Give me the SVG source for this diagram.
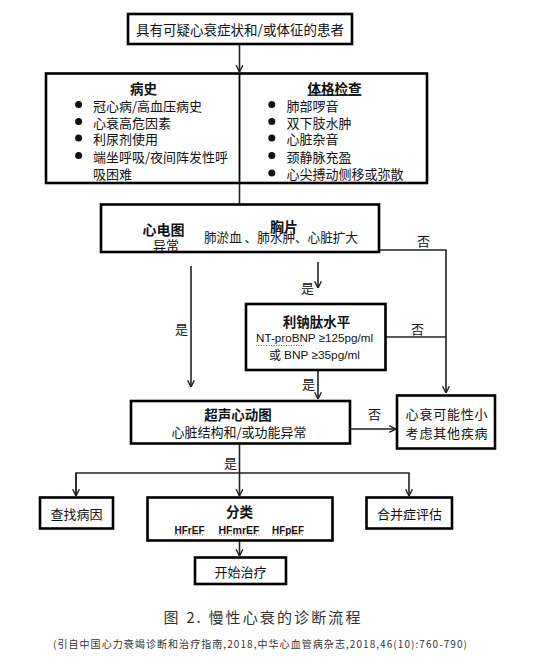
<svg xmlns="http://www.w3.org/2000/svg" width="536" height="670" viewBox="0 0 536 670">
<style>
.box{fill:#fff;stroke:#000;stroke-width:2.6}
.t{font-family:"Noto Sans CJK SC","Liberation Sans",sans-serif;font-size:13px;fill:#111;dominant-baseline:central}
.b{font-weight:bold;font-size:13.5px}
.c{text-anchor:middle}
.lat{font-family:"Liberation Sans","Noto Sans",sans-serif;font-size:11.5px;fill:#111;dominant-baseline:central}
.ln{fill:none;stroke:#222;stroke-width:1.6}
.sq{stroke:#d33;stroke-width:1;stroke-dasharray:1 1.5}
.cap{font-family:"Noto Sans CJK SC",serif;fill:#333;dominant-baseline:central}
</style>
<defs>
<marker id="ar" viewBox="0 0 10 10" refX="9.5" refY="5" markerWidth="8" markerHeight="9" markerUnits="userSpaceOnUse" orient="auto">
<path d="M1,0.8 L9.5,5 L1,9.2" fill="none" stroke="#222" stroke-width="1.8"/>
</marker>
</defs>
<rect width="536" height="670" fill="#fff"/>

<g id="connectors">
<line class="ln" x1="239.5" y1="44" x2="239.5" y2="72" marker-end="url(#ar)"/>
<line class="ln" x1="239.5" y1="183" x2="239.5" y2="223" marker-end="url(#ar)"/>
<polyline class="ln" points="379,250 446,250 446,393" marker-end="url(#ar)"/>
<line class="ln" x1="318" y1="262" x2="318" y2="288" marker-end="url(#ar)"/>
<line class="ln" x1="191" y1="266" x2="191" y2="387" marker-end="url(#ar)"/>
<line class="ln" x1="385" y1="337" x2="446" y2="337"/>
<line class="ln" x1="318" y1="370" x2="318" y2="399" marker-end="url(#ar)"/>
<line class="ln" x1="350" y1="429" x2="396" y2="429" marker-end="url(#ar)"/>
<line class="ln" x1="239.5" y1="444" x2="239.5" y2="496" marker-end="url(#ar)"/>
<polyline class="ln" points="76,496 76,473 409,473 409,496" marker-end="url(#ar)"/>
<line class="ln" x1="76" y1="473" x2="76" y2="496" marker-end="url(#ar)"/>
<line class="ln" x1="239.5" y1="541" x2="239.5" y2="556" marker-end="url(#ar)"/>
<text class="t" x="417" y="240">否</text>
<text class="t" x="301" y="287">是</text>
<text class="t" x="175" y="328">是</text>
<text class="t" x="411" y="328">否</text>
<text class="t" x="302" y="383">是</text>
<text class="t" x="368" y="413">否</text>
<text class="t" x="224" y="462">是</text>
</g>

<g id="node-start">
<rect class="box" x="128" y="14" width="224" height="30"/>
<text class="t c" x="240" y="29" style="font-size:13.5px">具有可疑心衰症状和/或体征的患者</text>
</g>

<g id="node-history-exam">
<rect class="box" x="46" y="73.5" width="381" height="109.5"/>
<line x1="239.5" y1="73.5" x2="239.5" y2="183" stroke="#000" stroke-width="1.8"/>
<text class="t b c" x="143.5" y="87.5">病史</text>
<g fill="#111">
<circle cx="78.6" cy="104.5" r="3.5"/><circle cx="78.6" cy="121.5" r="3.5"/><circle cx="78.6" cy="138" r="3.5"/><circle cx="78.6" cy="155.5" r="3.5"/>
<circle cx="271.8" cy="104.5" r="3.5"/><circle cx="271.8" cy="121.5" r="3.5"/><circle cx="271.8" cy="138" r="3.5"/><circle cx="271.8" cy="155.5" r="3.5"/><circle cx="271.8" cy="173" r="3.5"/>
</g>
<text class="t" x="93" y="105">冠心病/高血压病史</text>
<text class="t" x="93" y="122">心衰高危因素</text>
<text class="t" x="93" y="138.5">利尿剂使用</text>
<text class="t" x="93" y="156">端坐呼吸/夜间阵发性呼</text>
<text class="t" x="93" y="173.5">吸困难</text>
<text class="t b c" x="334.5" y="87.5" text-decoration="underline">体格检查</text>
<text class="t" x="286.5" y="105">肺部啰音</text>
<text class="t" x="286.5" y="122">双下肢水肿</text>
<text class="t" x="286.5" y="138.5">心脏杂音</text>
<text class="t" x="286.5" y="156">颈静脉充盈</text>
<text class="t" x="286.5" y="173.5">心尖搏动侧移或弥散</text>
</g>

<g id="node-ecg-xray">
<rect class="box" x="101" y="204.5" width="278" height="47.5"/>
<text class="t b c" x="163.5" y="228.5" style="font-size:14px">心电图</text>
<text class="t c" x="166" y="244.5">异常</text>
<text class="t" x="204" y="236.5" style="font-size:12.6px">肺淤血 、肺水肿、心脏扩大</text>
<text class="t b c" x="284" y="226" style="font-size:14px">胸片</text>
</g>

<g id="node-bnp">
<rect class="box" x="246" y="304" width="139.5" height="66"/>
<text class="t b c" x="316.5" y="320.5">利钠肽水平</text>
<text class="lat" x="256" y="338" textLength="117" lengthAdjust="spacingAndGlyphs">NT-proBNP ≥125pg/ml</text>
<line class="sq" x1="256" y1="345.5" x2="304" y2="345.5"/>
<text class="t" x="269" y="354.5" style="font-size:12px">或</text>
<text class="lat" x="284" y="354.5" textLength="76" lengthAdjust="spacingAndGlyphs">BNP ≥35pg/ml</text>
</g>

<g id="node-echo">
<rect class="box" x="131" y="401" width="219" height="42.5"/>
<text class="t b c" x="238" y="413.5">超声心动图</text>
<text class="t c" x="239" y="431">心脏结构和/或功能异常</text>
</g>

<g id="node-unlikely">
<rect class="box" x="397" y="395.5" width="98" height="53"/>
<text class="t c" x="447" y="413.5" style="letter-spacing:0.8px">心衰可能性小</text>
<text class="t c" x="447" y="432" style="letter-spacing:0.8px">考虑其他疾病</text>
</g>

<g id="node-cause">
<rect class="box" x="40" y="497.5" width="73" height="31"/>
<text class="t c" x="76.5" y="513.5">查找病因</text>
</g>

<g id="node-classify">
<rect class="box" x="147.5" y="497.5" width="185" height="43"/>
<text class="t b c" x="239.5" y="511">分类</text>
<text class="lat" x="174.5" y="529.5" font-weight="bold" style="font-size:11px" textLength="30" lengthAdjust="spacingAndGlyphs">HFrEF</text>
<text class="lat" x="218.5" y="529.5" font-weight="bold" style="font-size:11px" textLength="41" lengthAdjust="spacingAndGlyphs">HFmrEF</text>
<text class="lat" x="272" y="529.5" font-weight="bold" style="font-size:11px" textLength="32" lengthAdjust="spacingAndGlyphs">HFpEF</text>
<line class="sq" x1="174.5" y1="535" x2="204.5" y2="535"/>
<line class="sq" x1="218.5" y1="535" x2="259.5" y2="535"/>
<line class="sq" x1="272" y1="535" x2="304" y2="535"/>
</g>

<g id="node-comorbid">
<rect class="box" x="366.5" y="497.5" width="85.5" height="31"/>
<text class="t c" x="409.5" y="513.5">合并症评估</text>
</g>

<g id="node-treat">
<rect class="box" x="195" y="557.5" width="91" height="26.5"/>
<text class="t c" x="240.5" y="571">开始治疗</text>
</g>

<text class="cap" x="163.5" y="616" style="font-size:15px" textLength="197" lengthAdjust="spacing">图 2. 慢性心衰的诊断流程</text>
<text class="cap" x="53" y="643.5" style="font-size:10px" textLength="414" lengthAdjust="spacing">(引自中国心力衰竭诊断和治疗指南,2018,中华心血管病杂志,2018,46(10):760-790)</text>
</svg>
